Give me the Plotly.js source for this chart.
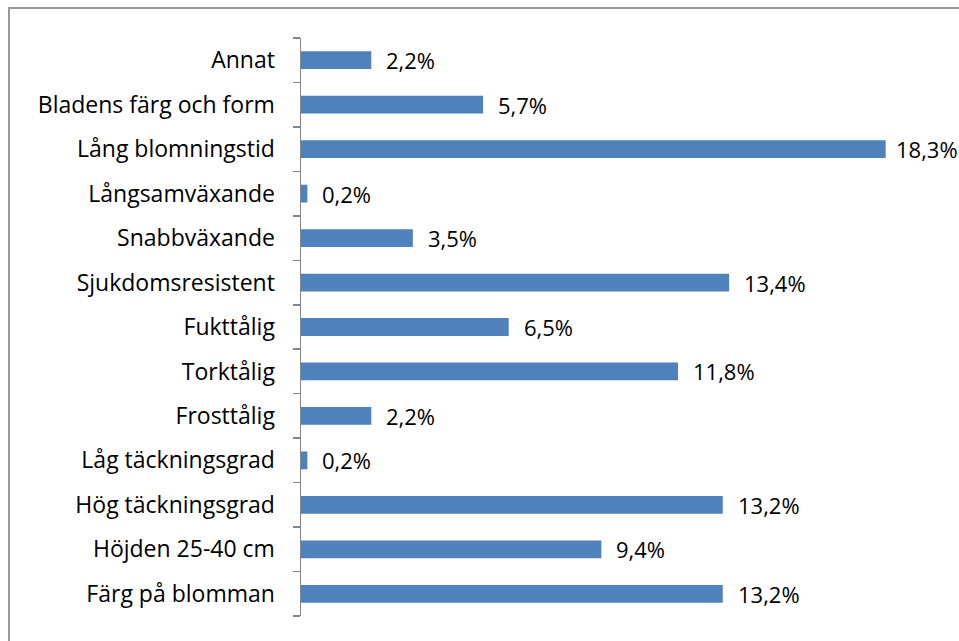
<!DOCTYPE html>
<html>
<head>
<meta charset="utf-8">
<script src="https://cdn.plot.ly/plotly-3.0.1.min.js"></script>
<style>
  html, body { margin: 0; padding: 0; background: #fff; }
  #frame { position: absolute; left: 8px; top: 7px; width: 951px; height: 634px;
           border-left: 2px solid #9a9a9a; border-top: 2px solid #9a9a9a; box-sizing: border-box; }
  #chart { position: absolute; left: 0; top: 0; width: 959px; height: 641px; }
</style>
</head>
<body>
<div id="frame"></div>
<div id="chart"></div>
<script>
const categories = [
  "Färg på blomman",
  "Höjden 25-40 cm",
  "Hög täckningsgrad",
  "Låg täckningsgrad",
  "Frosttålig",
  "Torktålig",
  "Fukttålig",
  "Sjukdomsresistent",
  "Snabbväxande",
  "Långsamväxande",
  "Lång blomningstid",
  "Bladens färg och form",
  "Annat"
];
const values = [13.2, 9.4, 13.2, 0.2, 2.2, 11.8, 6.5, 13.4, 3.5, 0.2, 18.3, 5.7, 2.2];
const labels = ["13,2%", "9,4%", "13,2%", "0,2%", "2,2%", "11,8%", "6,5%", "13,4%", "3,5%", "0,2%", "18,3%", "5,7%", "2,2%"];

const FONT = "'Open Sans', sans-serif";
const XMAX = 20;

const trace = {
  type: "bar",
  orientation: "h",
  x: values,
  y: categories,
  marker: { color: "#4F81BD" },
  hoverinfo: "none"
};

// labels sit just right of each bar; the one near the edge is pulled in so it fits
const annotations = values.map((v, i) => ({
  x: v, y: categories[i], xref: "x", yref: "y",
  text: labels[i], showarrow: false, xanchor: "left", yanchor: "middle",
  xshift: v > 0.9 * XMAX ? 8 : 13,
  font: { family: FONT, size: 22, color: "#000" }
}));

const layout = {
  width: 959, height: 641,
  paper_bgcolor: "rgba(0,0,0,0)",
  plot_bgcolor: "rgba(0,0,0,0)",
  margin: { l: 301, r: 19, t: 38, b: 25 },
  showlegend: false,
  bargap: 0.6,
  xaxis: {
    range: [0, XMAX], visible: false, fixedrange: true
  },
  yaxis: {
    type: "category",
    tickson: "boundaries",
    ticks: "outside", ticklen: 7, tickcolor: "#868686", tickwidth: 1.5,
    showline: true, linecolor: "#868686", linewidth: 1.5,
    showgrid: false, zeroline: false,
    ticklabelstandoff: 20,
    tickfont: { family: FONT, size: 23, color: "#000" }
  },
  annotations: annotations
};

Plotly.newPlot("chart", [trace], layout, { displayModeBar: false, staticPlot: true });
</script>
</body>
</html>
